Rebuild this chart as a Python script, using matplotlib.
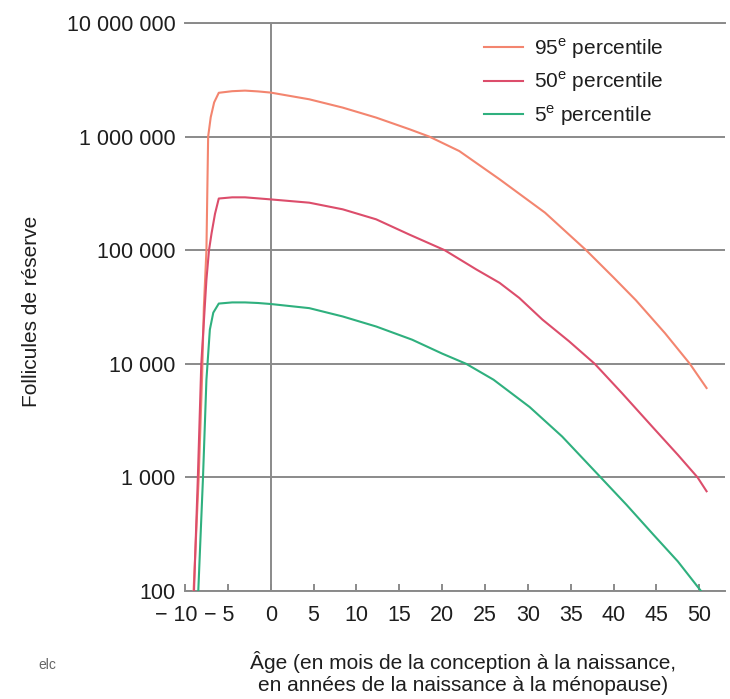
import matplotlib
matplotlib.use('Agg')
import matplotlib.pyplot as plt
import matplotlib.transforms as mtransforms

plt.rcParams['font.family'] = ['Liberation Sans', 'DejaVu Sans']
plt.rcParams['mathtext.fontset'] = 'custom'
plt.rcParams['mathtext.rm'] = 'Liberation Sans'

# age (months before birth as negatives, years after) and follicle counts
age_p95 = [-9.0, -8.4, -8.0, -7.8, -7.5, -7.3, -7.0, -6.6, -6.06, -4.5, -3.0, -1.5, 0,
           4.5, 8.4, 12.3, 16.2, 18.5, 22, 26.7, 32, 36.8, 40, 42.6, 46, 48.9, 50.85]
p95 = [100, 1000, 7940, 31600, 100000, 1000000, 1480000, 2000000, 2430000, 2510000,
       2540000, 2500000, 2440000, 2130000, 1800000, 1470000, 1160000, 1000000, 746000,
       421000, 214000, 100000, 57500, 36300, 18600, 10000, 6120]

age_p50 = [-8.95, -8.5, -8.1, -7.5, -7.2, -6.9, -6.5, -6.06, -4.5, -3.0, -1.5, 0,
           4.5, 8.4, 12.3, 16.2, 20.3, 24, 26.7, 29, 31.7, 34.8, 37.8, 41, 44.6, 47.5,
           49.8, 50.85]
p50 = [100, 1000, 10000, 55000, 100000, 141000, 209000, 285000, 292000, 292000,
       286000, 280000, 262000, 229000, 187000, 137000, 100000, 67600, 51600, 38000,
       24500, 15800, 10000, 5500, 2750, 1580, 1000, 755]

age_p5 = [-8.45, -7.9, -7.5, -7.1, -6.7, -6.06, -4.5, -3.0, -1.5, 0,
          4.5, 8.4, 12.3, 16.5, 20, 22.8, 26, 30.2, 34, 38.5, 41.5, 44.6, 47.5, 50.2]
p5 = [100, 1000, 7240, 20000, 28200, 33900, 34700, 34700, 34300, 33600,
      30900, 26100, 21300, 16300, 12300, 10000, 7240, 4170, 2290, 1000, 575, 316,
      182, 100]

series_labels = [r'95$^{\mathrm{e}}$ percentile', r'50$^{\mathrm{e}}$ percentile',
                 r'5$^{\mathrm{e}}$ percentile']
colors = ['#f3856f', '#dc4d6b', '#2fb07e']

xticks = list(range(-10, 51, 5))
xticklabels = ['\u2212 10', '\u2212 5'] + [str(v) for v in range(0, 51, 5)]
yticks = [100, 1000, 10000, 100000, 1000000, 10000000]
yticklabels = ['100', '1 000', '10 000', '100 000', '1 000 000', '10 000 000']

grey = '#8a8a8a'
ink = '#1e1e1e'
fs = 15.5

fig = plt.figure(figsize=(7.3, 6.99), dpi=100)
ax = fig.add_axes([185 / 730, 1 - 591 / 699, 540 / 730, 568 / 699])

ax.axvline(0, color=grey, lw=1.4, zorder=1)
for xs, ys, lab, c in zip([age_p95, age_p50, age_p5], [p95, p50, p5], series_labels, colors):
    ax.plot(xs, ys, color=c, lw=1.5, label=lab, zorder=3)

ax.set_yscale('log')
ax.set_xlim(-10, 53)
ax.set_ylim(100, 1e7)
ax.set_yticks(yticks)
ax.set_yticklabels(yticklabels)
ax.minorticks_off()
ax.set_xticks(xticks)
ax.set_xticklabels(xticklabels)
ax.yaxis.grid(True, color=grey, lw=1.4)
ax.set_axisbelow(True)

for s in ['left', 'right']:
    ax.spines[s].set_visible(False)
for s in ['top', 'bottom']:
    ax.spines[s].set_color(grey)
    ax.spines[s].set_linewidth(1.4)

ax.tick_params(axis='y', length=0, pad=7, labelsize=fs, labelcolor=ink)
ax.tick_params(axis='x', direction='in', length=5, width=1.4, color=grey, pad=10,
               labelsize=fs, labelcolor=ink)
# minus labels hang to the left of their ticks
shift = mtransforms.ScaledTranslation(-9 / 100, 0, fig.dpi_scale_trans)
for lbl in ax.get_xticklabels()[:2]:
    lbl.set_transform(lbl.get_transform() + shift)

leg = ax.legend(loc='upper right', bbox_to_anchor=(0.92, 1.01), frameon=False,
                fontsize=15, handlelength=1.9, handletextpad=0.5, labelspacing=0.42)
for t in leg.get_texts():
    t.set_color(ink)

fig.text(32 / 730, 1 - 311 / 699, 'Follicules de réserve', rotation=90,
         ha='center', va='center', fontsize=15, color=ink)
fig.text(463 / 730, 1 - 673 / 699,
         'Âge (en mois de la conception à la naissance,\nen années de la naissance à la ménopause)',
         ha='center', va='center', fontsize=15, color=ink, linespacing=1.2)
fig.text(47 / 730, 1 - 665 / 699, 'elc', ha='center', va='center', fontsize=10,
         color='#666666', fontstretch='condensed')

fig.savefig('out.png', dpi=100)
